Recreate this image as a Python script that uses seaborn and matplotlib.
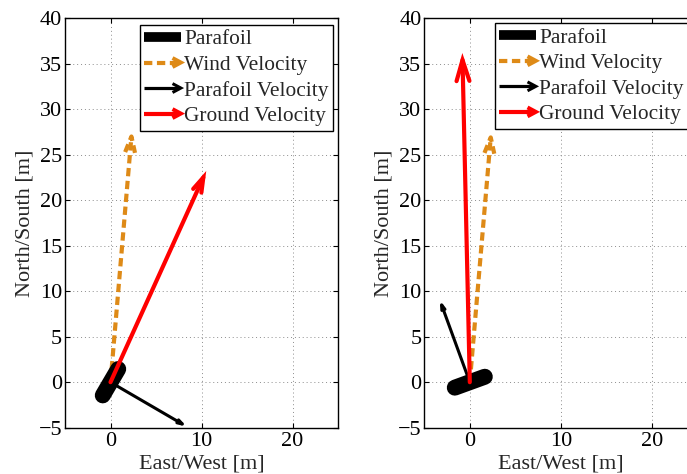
import numpy as np
import matplotlib
matplotlib.use("Agg")
import matplotlib.pyplot as plt
from matplotlib.lines import Line2D
from matplotlib.legend_handler import HandlerBase
import seaborn as sns

# Velocity vectors for the two cases (east, north components in metres)
wind_east = [2.3, 2.3]
wind_north = [27.0, 26.9]
parafoil_vel_east = [7.9, -3.1]
parafoil_vel_north = [-4.6, 8.5]
ground_vel_east = [10.2, -0.8]
ground_vel_north = [22.5, 35.4]

# Parafoil span, drawn as a thick bar through the origin (end points)
parafoil_east = [[-0.85, 0.85], [-1.65, 1.65]]
parafoil_north = [[-1.45, 1.45], [-0.6, 0.6]]

legend_labels = ["Parafoil", "Wind Velocity", "Parafoil Velocity", "Ground Velocity"]
x_ticks = [0, 10, 20]
y_ticks = list(range(-5, 41, 5))

ORANGE = "#DE8A17"
RED = "#FF0000"
BLACK = "#000000"
WIND_DASH = (0, (2.0, 1.1))

sns.set_theme(style="ticks")
plt.rcParams["font.family"] = ["Liberation Serif", "DejaVu Serif"]
plt.rcParams["axes.unicode_minus"] = True
FS = 16
LEG_FS = 15.4


def draw_arrow(ax, u, v, color, lw, ls="-", z=3):
    """Shaft from the origin plus an open arrow head, quiver style."""
    L = np.hypot(u, v)
    ux, uy = u / L, v / L
    nx, ny = -uy, ux
    hl, hw = 0.065 * L, 0.02 * L
    sns.lineplot(x=[0, u], y=[0, v], sort=False, estimator=None, ax=ax,
                 color=color, lw=lw, linestyle=ls, zorder=z,
                 solid_capstyle="round", dash_capstyle="butt")
    hx = [u - hl * ux + hw * nx, u, u - hl * ux - hw * nx]
    hy = [v - hl * uy + hw * ny, v, v - hl * uy - hw * ny]
    sns.lineplot(x=hx, y=hy, sort=False, estimator=None, ax=ax,
                 color=color, lw=lw, linestyle=ls, zorder=z,
                 solid_joinstyle="miter", solid_capstyle="round",
                 dash_capstyle="butt")


class ArrowHandler(HandlerBase):
    def __init__(self, color, lw, ls="-", head=True):
        super().__init__()
        self.color, self.lw, self.ls, self.head = color, lw, ls, head

    def create_artists(self, legend, orig_handle, xdescent, ydescent,
                       width, height, fontsize, trans):
        y = height / 2 - ydescent
        x0, x1 = -xdescent, width - xdescent
        arts = []
        shaft = Line2D([x0, x1 - (1.5 if self.head else 0)], [y, y],
                       color=self.color, lw=self.lw, linestyle=self.ls,
                       solid_capstyle="butt", dash_capstyle="butt",
                       transform=trans)
        arts.append(shaft)
        if self.head:
            hl, hw = 6.0, 3.2
            head = Line2D([x1 - hl, x1, x1 - hl], [y + hw, y, y - hw],
                          color=self.color, lw=self.lw * 0.95,
                          solid_joinstyle="miter", solid_capstyle="butt",
                          transform=trans)
            arts.append(head)
        return arts


W, H = 687, 474
fig = plt.figure(figsize=(W / 100, H / 100), dpi=100)
fig.patch.set_facecolor("white")

ax_w = 273 / W
ax_h = 409.5 / H
ax_b = (H - 427.7) / H
lefts = [65 / W, 424.3 / W]
legend_anchor = [(140.0 / W, 1 - 25 / H), (495.0 / W, 1 - 23.3 / H)]

for i in range(2):
    ax = fig.add_axes([lefts[i], ax_b, ax_w, ax_h])
    ax.set_facecolor("white")

    # wind (dashed), parafoil body, parafoil velocity, ground velocity
    draw_arrow(ax, wind_east[i], wind_north[i], ORANGE, 3.0, ls=WIND_DASH, z=2)
    sns.lineplot(x=parafoil_east[i], y=parafoil_north[i], sort=False,
                 estimator=None, ax=ax, color=BLACK, lw=11.5,
                 solid_capstyle="round", zorder=3)
    draw_arrow(ax, parafoil_vel_east[i], parafoil_vel_north[i], BLACK, 2.2, z=4)
    draw_arrow(ax, ground_vel_east[i], ground_vel_north[i], RED, 3.0, z=5)

    ax.set_xlim(-5, 25)
    ax.set_ylim(-5, 40)
    ax.set_xticks(x_ticks)
    ax.set_yticks(y_ticks)
    ax.grid(True, color="#8c8c8c", linestyle=(0, (1, 3)), linewidth=0.7)
    ax.set_axisbelow(True)
    for s in ax.spines.values():
        s.set_visible(True)
        s.set_color("black")
        s.set_linewidth(1.0)
    ax.tick_params(direction="in", length=3.5, width=0.8, top=True,
                   right=True, labelsize=FS, colors="black", pad=3)
    ax.tick_params(axis="y", pad=2)
    ax.set_xlabel("East/West [m]", fontsize=FS, labelpad=2.5)
    ax.set_ylabel("North/South [m]", fontsize=FS, labelpad=3)

    proxies = [Line2D([], [], label=l) for l in legend_labels]
    handlers = [ArrowHandler(BLACK, 7.0, head=False),
                ArrowHandler(ORANGE, 3.0, ls=WIND_DASH),
                ArrowHandler(BLACK, 2.3),
                ArrowHandler(RED, 3.0)]
    leg = ax.legend(handles=proxies, labels=legend_labels,
                    handler_map={p: h for p, h in zip(proxies, handlers)},
                    loc="upper left", bbox_to_anchor=legend_anchor[i],
                    bbox_transform=fig.transFigure, borderaxespad=0,
                    fontsize=LEG_FS, frameon=True, fancybox=False,
                    shadow=False, framealpha=1, edgecolor="black",
                    handlelength=1.7, handletextpad=0.15,
                    labelspacing=0.26, borderpad=0.21)
    leg.get_frame().set_linewidth(1.0)

fig.savefig("out.png", dpi=100, facecolor="white")
